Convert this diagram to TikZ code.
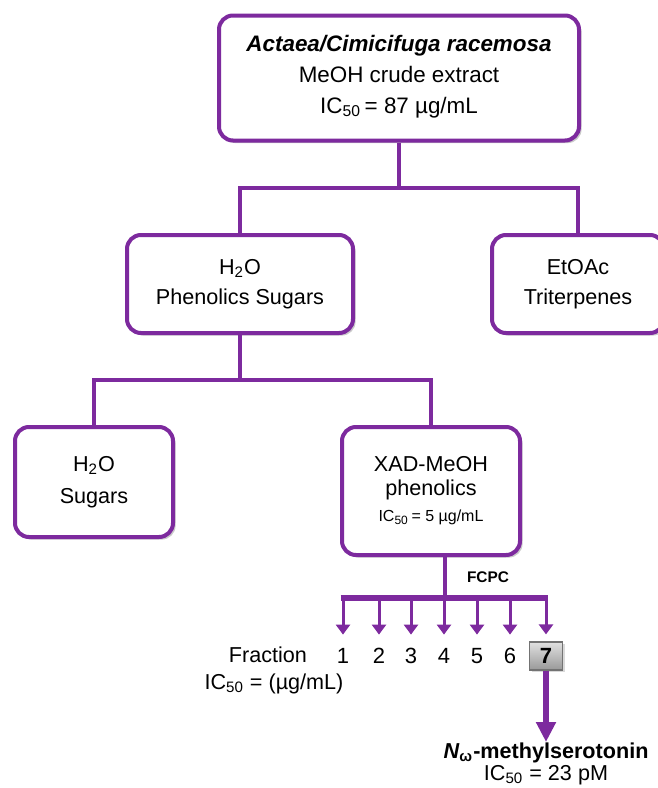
\documentclass[tikz,border=0pt]{standalone}
\usepackage{fontspec}
\setmainfont{Liberation Sans}
\usetikzlibrary{shadows,arrows.meta,positioning}
\definecolor{penPurple}{RGB}{125,42,158}
\tikzset{>=Stealth}
\tikzset{
  box/.style={draw=penPurple, line width=2pt, rounded corners=7pt, fill=white,
    align=center, inner sep=0pt,
    drop shadow={shadow xshift=1.3pt, shadow yshift=-1.3pt, opacity=.35, fill=black!60}},
  link/.style={penPurple, line width=2pt},
  bar/.style={penPurple, line width=2.6pt},
  fracarrow/.style={penPurple, line width=1.5pt, -{Triangle[width=7pt,length=5pt]}, shorten >=3.5pt},
  bigarrow/.style={penPurple, line width=3pt, -{Triangle[width=9.5pt,length=10pt]}},
  fracnum/.style={minimum height=14pt, minimum width=15pt, inner sep=0pt, font=\fontsize{11}{12}\selectfont},
}

\begin{document}
\begin{tikzpicture}[x=0.5pt,y=-0.5pt]
\useasboundingbox (0,0) rectangle (658,788);
% boxes
\node[box, minimum width=180pt, minimum height=62.5pt, font=\fontsize{11.2}{15.5}\selectfont] (crude) at (399,78)
  {{\bfseries\itshape Actaea/Cimicifuga racemosa}\\MeOH crude extract\\IC\textsubscript{50}\,= 87 µg/mL\rule[-4pt]{0pt}{4pt}};
\node[box, minimum width=113pt, minimum height=49pt, font=\fontsize{10.8}{15}\selectfont] (aqphen) at (240,284)
  {H\textsubscript{2}O\\Phenolics Sugars};
\node[box, minimum width=86pt, minimum height=49pt, font=\fontsize{10.8}{15}\selectfont] (etoac) at (578,284)
  {EtOAc\\Triterpenes};
\node[box, minimum width=79pt, minimum height=55pt, font=\fontsize{10.8}{16}\selectfont] (aqsug) at (94,482)
  {H\textsubscript{2}O\\Sugars};
\node[box, minimum width=89pt, minimum height=64pt, font=\fontsize{10.8}{12}\selectfont] (xad) at (431,491)
  {XAD-MeOH\\phenolics\\[1pt]{\fontsize{8}{10}\selectfont IC\textsubscript{50}\,= 5 µg/mL}};
% connectors
\coordinate (split1) at (399,188);
\coordinate (split2) at (240,380);
\draw[link] (crude.south) -- (split1);
\draw[link] (aqphen.north) |- (split1) -| (etoac.north);
\draw[link] (aqphen.south) -- (split2);
\draw[link] (aqsug.north) |- (split2) -| (xad.north);
% FCPC fractions
\coordinate (fcpc) at (445,598);
\draw[link] (xad.south -| fcpc) -- (fcpc);
\node[font=\fontsize{7.7}{9}\selectfont\bfseries] (fcpclabel) at (488,577) {FCPC};
\foreach \i/\x in {1/343,2/379,3/411,4/444,5/477,6/510}
  \node[fracnum] (frac\i) at (\x,656) {\i};
\node[fracnum, draw=black!55, line width=0.6pt, top color=black!12, bottom color=black!40,
  minimum width=16.5pt, font=\fontsize{11}{12}\selectfont\bfseries,
  drop shadow={shadow xshift=1pt, shadow yshift=-1pt, opacity=.3}] (frac7) at (546,656) {7};
\draw[bar, shorten <=-1.2pt, shorten >=-1.2pt] (frac1 |- fcpc) -- (frac7 |- fcpc);
\foreach \i in {1,...,7}
  \draw[fracarrow] (frac\i |- fcpc) -- (frac\i.north);
\node[anchor=base east, font=\fontsize{10.8}{12}\selectfont] (fraclabel) at (314,662) {Fraction};
\node[anchor=base, font=\fontsize{10.8}{12}\selectfont] (icunit) at (274,689) {IC\textsubscript{50} = (µg/mL)};
% final compound
\node[anchor=north, align=center, inner sep=0pt, font=\fontsize{10.8}{11.3}\selectfont] (serot) at (546,742)
  {\textbf{\textit{N}\textsubscript{ω}-methylserotonin}\\IC\textsubscript{50} = 23 pM};
\draw[bigarrow] (frac7.south) -- (serot.north);
\end{tikzpicture}
\end{document}
